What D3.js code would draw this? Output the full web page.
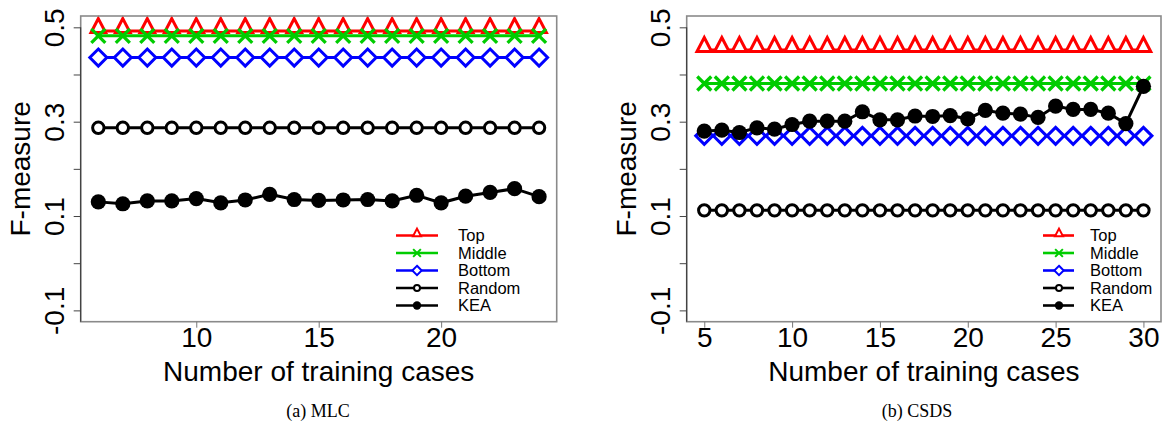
<!DOCTYPE html>
<html><head><meta charset="utf-8">
<script src="https://cdn.jsdelivr.net/npm/d3@7"></script>
<style>
html,body{margin:0;padding:0;background:#fff;}
svg{display:block;}
</style></head>
<body>
<svg id="chart" width="1164" height="432"></svg>
<script>
// ---------- Data ----------
const seriesNames = ["Top", "Middle", "Bottom", "Random", "KEA"];
const seriesColors = ["#ff0000", "#00cc00", "#0000ff", "#000000", "#000000"];
const seriesShapes = ["triangle", "cross", "diamond", "circle", "dot"];

const yTicks = [-0.1, 0.0, 0.1, 0.2, 0.3, 0.4, 0.5];
const yTickLabels = ["-0.1", "", "0.1", "", "0.3", "", "0.5"];

// (a) MLC
const mlcX = [6,7,8,9,10,11,12,13,14,15,16,17,18,19,20,21,22,23,24];
const mlcXTicks = [10, 15, 20];
const mlcTop    = [0.492,0.492,0.492,0.492,0.492,0.492,0.492,0.492,0.492,0.492,0.492,0.492,0.492,0.492,0.492,0.492,0.492,0.492,0.492];
const mlcMiddle = [0.482,0.482,0.482,0.482,0.482,0.482,0.482,0.482,0.482,0.482,0.482,0.482,0.482,0.482,0.482,0.482,0.482,0.482,0.482];
const mlcBottom = [0.436,0.436,0.436,0.436,0.436,0.436,0.436,0.436,0.436,0.436,0.436,0.436,0.436,0.436,0.436,0.436,0.436,0.436,0.436];
const mlcRandom = [0.287,0.287,0.287,0.287,0.287,0.287,0.287,0.287,0.287,0.287,0.287,0.287,0.287,0.287,0.287,0.287,0.287,0.287,0.287];
const mlcKEA    = [0.130,0.126,0.132,0.132,0.137,0.128,0.134,0.146,0.135,0.133,0.134,0.135,0.132,0.144,0.128,0.142,0.150,0.158,0.141];

// (b) CSDS
const csdsX = [5,6,7,8,9,10,11,12,13,14,15,16,17,18,19,20,21,22,23,24,25,26,27,28,29,30];
const csdsXTicks = [5, 10, 15, 20, 25, 30];
const csdsTop    = [0.452,0.452,0.452,0.452,0.452,0.452,0.452,0.452,0.452,0.452,0.452,0.452,0.452,0.452,0.452,0.452,0.452,0.452,0.452,0.452,0.452,0.452,0.452,0.452,0.452,0.452];
const csdsMiddle = [0.381,0.381,0.381,0.381,0.381,0.381,0.381,0.381,0.381,0.381,0.381,0.381,0.381,0.381,0.381,0.381,0.381,0.381,0.381,0.381,0.381,0.381,0.381,0.381,0.381,0.381];
const csdsBottom = [0.270,0.270,0.270,0.270,0.270,0.270,0.270,0.270,0.270,0.270,0.270,0.270,0.270,0.270,0.270,0.270,0.270,0.270,0.270,0.270,0.270,0.270,0.270,0.270,0.270,0.270];
const csdsRandom = [0.112,0.112,0.112,0.112,0.112,0.112,0.112,0.112,0.112,0.112,0.112,0.112,0.112,0.112,0.112,0.112,0.112,0.112,0.112,0.112,0.112,0.112,0.112,0.112,0.112,0.112];
const csdsKEA    = [0.280,0.282,0.277,0.287,0.284,0.294,0.301,0.301,0.301,0.321,0.304,0.304,0.312,0.311,0.313,0.306,0.324,0.318,0.316,0.309,0.333,0.326,0.326,0.318,0.296,0.375];

const xLabel = "Number of training cases";
const yLabel = "F-measure";

// ---------- Drawing ----------
const svg = d3.select("#chart");
const SANS = "'Liberation Sans', Arial, sans-serif";

function markerPath(shape, big) {
  const s = big ? 1 : 0.55;
  switch (shape) {
    case "triangle": { const h = 7.3*s; return `M0,${-12.5*s}L${h},${1.5*s}L${-h},${1.5*s}Z`; }
    case "cross": { const a = 7*s; return `M${-a},${-a}L${a},${a}M${-a},${a}L${a},${-a}`; }
    case "diamond": { const a = 8.5*s; return `M0,${-a}L${a},0L0,${a}L${-a},0Z`; }
  }
  return null;
}

function drawMarker(g, shape, color, big) {
  if (shape === "circle") {
    g.append("circle").attr("r", big ? 5.7 : 3).attr("fill", "#fff")
      .attr("stroke", color).attr("stroke-width", big ? 3 : 2);
  } else if (shape === "dot") {
    g.append("circle").attr("r", big ? 7.6 : 4.2).attr("fill", color);
  } else {
    g.append("path").attr("d", markerPath(shape, big))
      .attr("fill", shape === "cross" ? "none" : "#fff")
      .attr("stroke", color).attr("stroke-width", big ? (shape === "cross" ? 3.3 : 3) : 2)
      .attr("stroke-linejoin", "miter");
  }
}

function drawPanel(cfg) {
  const {left, right, top, bottom, xDomain, xs, xTicks, series, legend, caption} = cfg;
  const x = d3.scaleLinear().domain(xDomain).range([left, right]);
  const y = d3.scaleLinear().domain([-0.124, 0.524]).range([bottom, top]);
  const g = svg.append("g");

  series.forEach((vals, i) => {
    const color = seriesColors[i];
    const line = d3.line().x((d, k) => x(xs[k])).y(d => y(d));
    g.append("path").datum(vals).attr("d", line)
      .attr("fill", "none").attr("stroke", color).attr("stroke-width", 3);
    vals.forEach((v, k) => {
      const mg = g.append("g").attr("transform", `translate(${x(xs[k])},${y(v)})`);
      drawMarker(mg, seriesShapes[i], color, true);
    });
  });

  g.append("rect").attr("x", left).attr("y", top)
    .attr("width", right - left).attr("height", bottom - top)
    .attr("fill", "none").attr("stroke", "#8a8a8a").attr("stroke-width", 1.6);

  const ya = g.append("g").attr("transform", `translate(${left},0)`)
    .call(d3.axisLeft(y).tickValues(yTicks).tickSize(7)
      .tickFormat((d, k) => yTickLabels[k]));
  ya.select(".domain").attr("stroke", "#333").attr("stroke-width", 1)
    .attr("d", `M0,${y(0.5)}V${bottom}`);
  ya.selectAll(".tick line").attr("stroke", "#444");
  ya.selectAll(".tick text")
    .attr("x", null).attr("dy", "0.35em")
    .attr("transform", "translate(-26.5,0) rotate(-90)")
    .attr("text-anchor", "middle")
    .attr("font-family", SANS).attr("font-size", 28).attr("fill", "#000");

  const xa = g.append("g").attr("transform", `translate(0,${bottom})`)
    .call(d3.axisBottom(x).tickValues(xTicks).tickSize(6).tickFormat(d3.format("d")));
  xa.select(".domain").remove();
  xa.selectAll(".tick line").attr("stroke", "#777");
  xa.selectAll(".tick text").attr("y", 5).attr("dy", "0.71em")
    .attr("font-family", SANS).attr("font-size", 28).attr("fill", "#000");

  g.append("text").attr("x", (left + right) / 2).attr("y", bottom + 59.3)
    .attr("text-anchor", "middle").attr("font-family", SANS).attr("font-size", 28)
    .text(xLabel);
  g.append("text").attr("transform", `translate(${left - 60.7},${(top + bottom) / 2}) rotate(-90)`)
    .attr("dy", "0.35em").attr("text-anchor", "middle")
    .attr("font-family", SANS).attr("font-size", 28).text(yLabel);

  const rows = [235.5, 253, 270.5, 288, 305.5];
  seriesNames.forEach((name, i) => {
    const lg = g.append("g").attr("transform", `translate(0,${rows[i]})`);
    lg.append("line").attr("x1", left + legend.x1).attr("x2", left + legend.x2)
      .attr("stroke", seriesColors[i]).attr("stroke-width", 2.6);
    const mg = lg.append("g").attr("transform", `translate(${left + legend.xm},0)`);
    drawMarker(mg, seriesShapes[i], seriesColors[i], false);
    lg.append("text").attr("x", left + legend.xt).attr("dy", "0.36em")
      .attr("font-family", SANS).attr("font-size", 16.5).text(name);
  });

  svg.append("text").attr("x", caption.x).attr("y", 417)
    .attr("text-anchor", "middle")
    .attr("font-family", "'Liberation Serif', 'Times New Roman', serif")
    .attr("font-size", 18).text(caption.text);
}

drawPanel({
  left: 80.7, right: 556.7, top: 16, bottom: 321.7,
  xDomain: [5.28, 24.72], xs: mlcX, xTicks: mlcXTicks,
  series: [mlcTop, mlcMiddle, mlcBottom, mlcRandom, mlcKEA],
  legend: {x1: 315.3, x2: 357.3, xm: 336.3, xt: 377.3},
  caption: {x: 318, text: "(a) MLC"}
});
drawPanel({
  left: 686.7, right: 1161, top: 16, bottom: 321.7,
  xDomain: [4, 31], xs: csdsX, xTicks: csdsXTicks,
  series: [csdsTop, csdsMiddle, csdsBottom, csdsRandom, csdsKEA],
  legend: {x1: 356.3, x2: 387.3, xm: 372.3, xt: 403.3},
  caption: {x: 917, text: "(b) CSDS"}
});
</script>
</body></html>
